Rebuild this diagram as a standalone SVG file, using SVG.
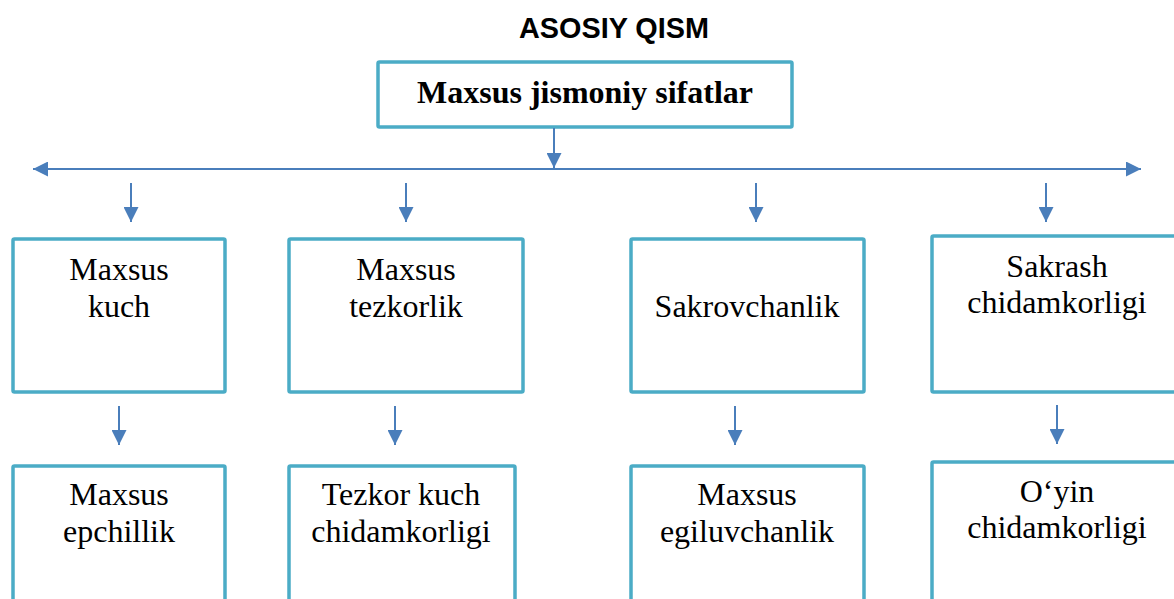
<svg xmlns="http://www.w3.org/2000/svg" width="1174" height="599" viewBox="0 0 1174 599">
  <defs>
    <marker id="ah" viewBox="0 0 10 10" refX="10" refY="5" markerWidth="7.5" markerHeight="7.5" markerUnits="strokeWidth" orient="auto-start-reverse">
      <path d="M0,0 L10,5 L0,10 Z" fill="#4a7ebb"/>
    </marker>
  </defs>
  <style>
    .box{fill:#fff;stroke:#4bacc6;stroke-width:3.5}
    .lbl{font-family:"Liberation Serif","Times New Roman",serif;font-size:32px;fill:#000;text-anchor:middle}
    .head{font-family:"Liberation Serif","Times New Roman",serif;font-size:32px;font-weight:bold;fill:#000;text-anchor:middle}
    .title{font-family:"Liberation Sans",Arial,sans-serif;font-size:30px;font-weight:bold;fill:#000;text-anchor:middle}
    .conn{stroke:#4a7ebb;stroke-width:2;fill:none}
  </style>
  <rect width="1174" height="599" fill="#fff"/>
  <text class="title" x="614" y="38" textLength="190" lengthAdjust="spacingAndGlyphs">ASOSIY QISM</text>

  <g id="root">
    <rect class="box" x="378" y="62" width="414" height="65" rx="1.5"/>
    <text class="head" x="585" y="103">Maxsus jismoniy sifatlar</text>
  </g>

  <g id="connectors">
    <line class="conn" x1="554" y1="128" x2="554" y2="168" marker-end="url(#ah)"/>
    <line class="conn" x1="33" y1="169" x2="1141" y2="169" marker-start="url(#ah)" marker-end="url(#ah)"/>
    <line class="conn" x1="131" y1="183" x2="131" y2="222" marker-end="url(#ah)"/>
    <line class="conn" x1="406" y1="183" x2="406" y2="222" marker-end="url(#ah)"/>
    <line class="conn" x1="756" y1="183" x2="756" y2="222" marker-end="url(#ah)"/>
    <line class="conn" x1="1046" y1="183" x2="1046" y2="222" marker-end="url(#ah)"/>
    <line class="conn" x1="119" y1="406" x2="119" y2="445" marker-end="url(#ah)"/>
    <line class="conn" x1="395" y1="406" x2="395" y2="445" marker-end="url(#ah)"/>
    <line class="conn" x1="735" y1="406" x2="735" y2="445" marker-end="url(#ah)"/>
    <line class="conn" x1="1057" y1="405" x2="1057" y2="444" marker-end="url(#ah)"/>
  </g>

  <g id="n1">
    <rect class="box" x="13" y="239" width="212" height="153" rx="1.5"/>
    <text class="lbl" x="119" y="280">Maxsus</text>
    <text class="lbl" x="119" y="317">kuch</text>
  </g>
  <g id="n2">
    <rect class="box" x="289" y="239" width="234" height="153" rx="1.5"/>
    <text class="lbl" x="406" y="280">Maxsus</text>
    <text class="lbl" x="406" y="317">tezkorlik</text>
  </g>
  <g id="n3">
    <rect class="box" x="631" y="239" width="233" height="153" rx="1.5"/>
    <text class="lbl" x="747" y="317">Sakrovchanlik</text>
  </g>
  <g id="n4">
    <rect class="box" x="932" y="236" width="260" height="156" rx="1.5"/>
    <text class="lbl" x="1057" y="277">Sakrash</text>
    <text class="lbl" x="1057" y="313">chidamkorligi</text>
  </g>

  <g id="n5">
    <rect class="box" x="13" y="466" width="212" height="150" rx="1.5"/>
    <text class="lbl" x="119" y="505">Maxsus</text>
    <text class="lbl" x="119" y="542">epchillik</text>
  </g>
  <g id="n6">
    <rect class="box" x="289" y="466" width="226" height="150" rx="1.5"/>
    <text class="lbl" x="401" y="505">Tezkor kuch</text>
    <text class="lbl" x="401" y="542">chidamkorligi</text>
  </g>
  <g id="n7">
    <rect class="box" x="631" y="466" width="233" height="150" rx="1.5"/>
    <text class="lbl" x="747" y="505">Maxsus</text>
    <text class="lbl" x="747" y="542">egiluvchanlik</text>
  </g>
  <g id="n8">
    <rect class="box" x="932" y="462" width="260" height="150" rx="1.5"/>
    <text class="lbl" x="1057" y="502">O‘yin</text>
    <text class="lbl" x="1057" y="538">chidamkorligi</text>
  </g>
</svg>
